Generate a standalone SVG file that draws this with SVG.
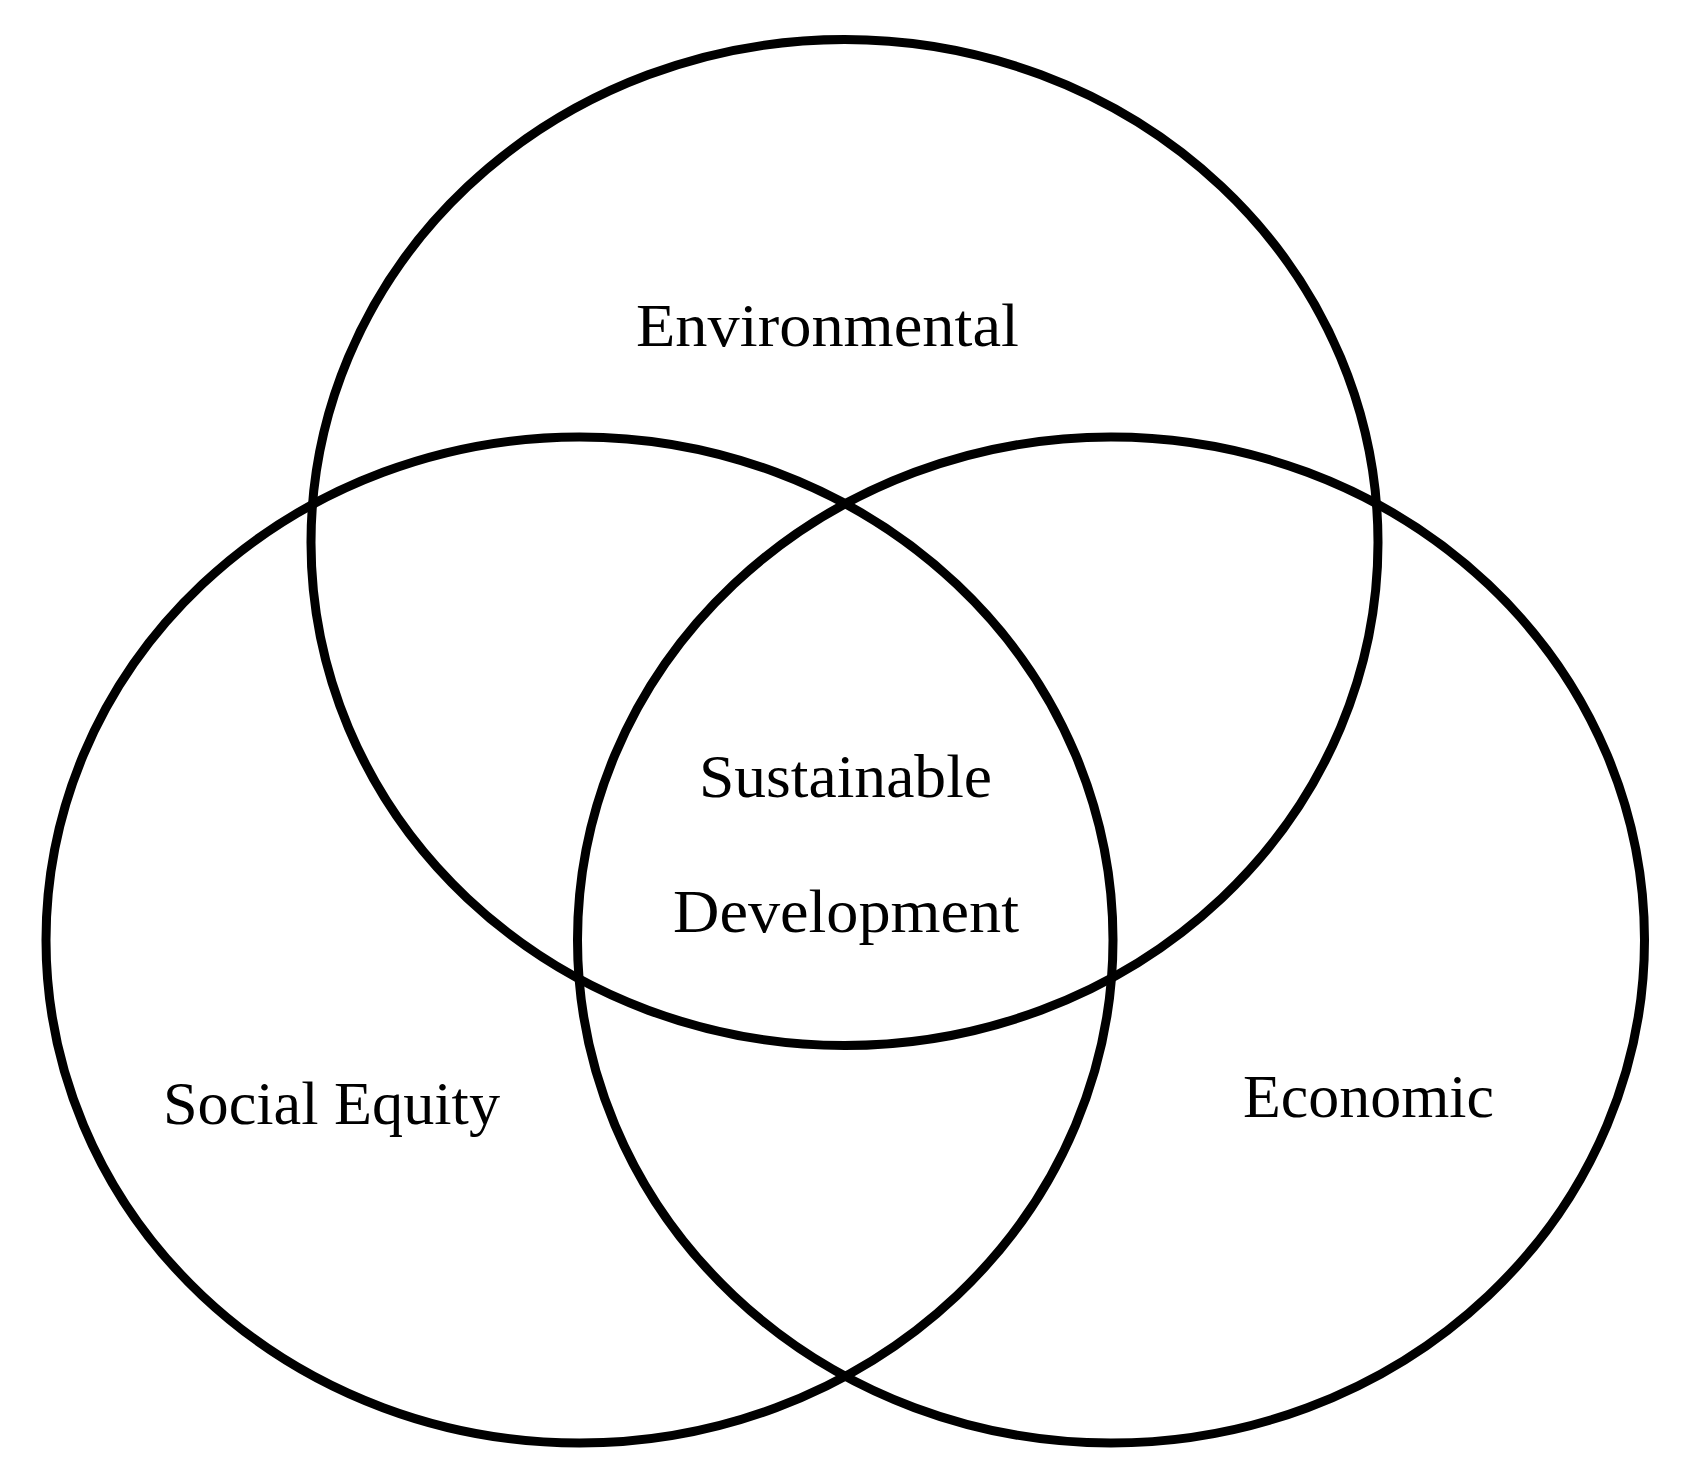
<svg xmlns="http://www.w3.org/2000/svg" width="1694" height="1484" viewBox="0 0 1694 1484">
<style>
.c{fill:none;stroke:#000;stroke-width:9}
.t{font-family:"Liberation Serif","Times New Roman",serif;font-size:62px;fill:#000}
</style>
<rect width="1694" height="1484" fill="#fff"/>
<g id="environmental">
<ellipse class="c" cx="844.5" cy="542.5" rx="533.5" ry="503"/>
<text class="t" x="636" y="346" textLength="383" lengthAdjust="spacingAndGlyphs">Environmental</text>
</g>
<g id="social-equity">
<ellipse class="c" cx="579.5" cy="940" rx="533.5" ry="503"/>
<text class="t" x="163" y="1124" textLength="337" lengthAdjust="spacingAndGlyphs">Social Equity</text>
</g>
<g id="economic">
<ellipse class="c" cx="1111" cy="940" rx="533.5" ry="503"/>
<text class="t" x="1243" y="1117" textLength="251" lengthAdjust="spacingAndGlyphs">Economic</text>
</g>
<g id="sustainable-development">
<text class="t" x="699" y="797" textLength="293" lengthAdjust="spacingAndGlyphs">Sustainable</text>
<text class="t" x="673" y="932" textLength="346" lengthAdjust="spacingAndGlyphs">Development</text>
</g>
<g id="connectors"></g>
</svg>
